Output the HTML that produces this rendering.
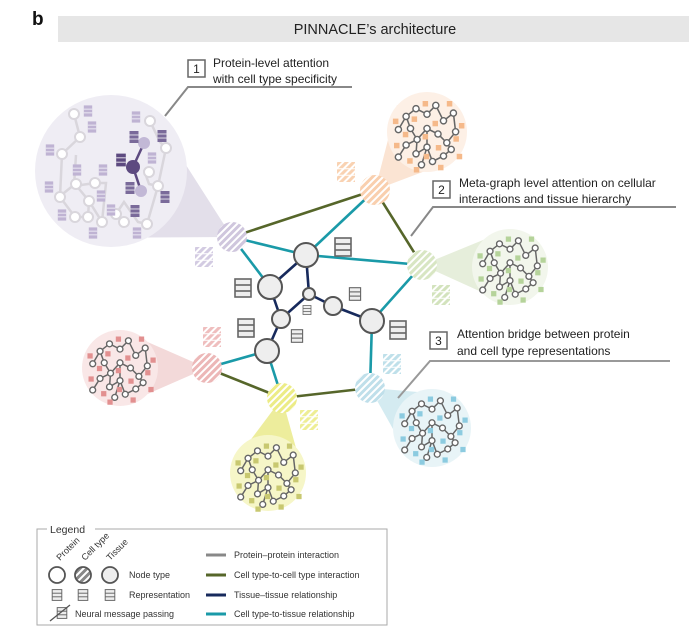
<!DOCTYPE html>
<html><head><meta charset="utf-8"><style>
html,body{margin:0;padding:0;background:#fff}
svg{display:block;font-family:"Liberation Sans",sans-serif}
</style></head><body>
<svg width="689" height="637" viewBox="0 0 689 637" xmlns="http://www.w3.org/2000/svg">
<defs>
<pattern id="h" width="5" height="5" patternUnits="userSpaceOnUse" patternTransform="rotate(45)">
<rect width="2" height="5" fill="#fff"/>
</pattern>
<g id="rep"><rect x="-6" y="-8" width="12" height="16"/><line x1="-6" y1="-2.7" x2="6" y2="-2.7" stroke="#fff" stroke-width="1"/><line x1="-6" y1="2.7" x2="6" y2="2.7" stroke="#fff" stroke-width="1"/></g>
<g id="trep"><rect x="-8" y="-9" width="16" height="18" fill="#eee" stroke="#666" stroke-width="1.6"/><line x1="-8" y1="-3" x2="8" y2="-3" stroke="#666" stroke-width="1.6"/><line x1="-8" y1="3" x2="8" y2="3" stroke="#666" stroke-width="1.6"/></g>
<g id="crep"><rect x="-9" y="-10" width="18" height="20" stroke="none"/><rect x="-9" y="-10" width="18" height="20" fill="url(#h)"/><line x1="-9" y1="-3.3" x2="9" y2="-3.3" stroke="#fff"/><line x1="-9" y1="3.3" x2="9" y2="3.3" stroke="#fff"/></g>
<g id="gr">
<polyline fill="none" stroke="#666" stroke-width="1.4" points="-26,-4 -19,-16 -10,-23 0,-18 8,-26 15,-12 24,-19 26,-2 18,8 10,0 0,-5 -9,5 -19,10 -26,21"/>
<polyline fill="none" stroke="#666" stroke-width="1.4" points="-19,-16 -15,-5 -9,5 -10,18 0,12 5,25 15,20 22,14 18,8"/>
<polyline fill="none" stroke="#666" stroke-width="1.4" points="0,-5 0,12 -5,28"/>
<g fill="#fff" stroke="#666" stroke-width="1.3">
<circle cx="-26" cy="-4" r="2.8"/><circle cx="-19" cy="-16" r="2.8"/><circle cx="-10" cy="-23" r="2.8"/><circle cx="0" cy="-18" r="2.8"/><circle cx="8" cy="-26" r="2.8"/><circle cx="15" cy="-12" r="2.8"/><circle cx="24" cy="-19" r="2.8"/><circle cx="26" cy="-2" r="2.8"/><circle cx="18" cy="8" r="2.8"/><circle cx="10" cy="0" r="2.8"/><circle cx="0" cy="-5" r="2.8"/><circle cx="-9" cy="5" r="2.8"/><circle cx="-19" cy="10" r="2.8"/><circle cx="-26" cy="21" r="2.8"/><circle cx="-15" cy="-5" r="2.8"/><circle cx="-10" cy="18" r="2.8"/><circle cx="0" cy="12" r="2.8"/><circle cx="5" cy="25" r="2.8"/><circle cx="15" cy="20" r="2.8"/><circle cx="22" cy="14" r="2.8"/><circle cx="-5" cy="28" r="2.8"/>
</g>
<g stroke="none">
<rect x="-31" y="-14" width="5" height="5"/><rect x="-4" y="-30" width="5" height="5"/><rect x="18" y="-30" width="5" height="5"/><rect x="29" y="-10" width="5" height="5"/><rect x="5" y="-12" width="5" height="5"/><rect x="-22" y="-2" width="5" height="5"/><rect x="-30" y="8" width="5" height="5"/><rect x="24" y="2" width="5" height="5"/><rect x="-4" y="0" width="5" height="5"/><rect x="8" y="10" width="5" height="5"/><rect x="-18" y="22" width="5" height="5"/><rect x="10" y="28" width="5" height="5"/><rect x="27" y="18" width="5" height="5"/><rect x="-14" y="-16" width="5" height="5"/><rect x="-3" y="18" width="5" height="5"/><rect x="-12" y="30" width="5" height="5"/>
</g>
</g>
</defs>

<text x="32" y="25" font-size="19" font-weight="bold" fill="#111">b</text>
<rect x="58" y="16" width="631" height="26" fill="#e6e6e6"/>
<text x="375" y="34" font-size="14.5" text-anchor="middle" fill="#222">PINNACLE’s architecture</text>

<!-- cones -->
<polygon points="75,238 147,104 232,237" fill="#e3dfea"/>
<polygon points="457,159 397,105 375,190" fill="#fbe4d3"/>
<polygon points="510,305 510,229 422,265" fill="#e6eedb"/>
<polygon points="120,330 120,406 207,368" fill="#f3d9d9"/>
<polygon points="305,480 231,466 282,398" fill="#eded9c"/>
<polygon points="453,395 411,461 370,388" fill="#d4ebf1"/>

<!-- bubbles -->
<circle cx="111" cy="171" r="76" fill="#efedf4"/>
<circle cx="427" cy="132" r="40" fill="#fdf0e6"/>
<circle cx="510" cy="267" r="38" fill="#f2f6ec"/>
<circle cx="120" cy="368" r="38" fill="#f9e7e7"/>
<circle cx="268" cy="473" r="38" fill="#f6f6c8"/>
<circle cx="432" cy="428" r="39" fill="#e8f4f7"/>

<use href="#gr" transform="translate(427,134) scale(1.1)" fill="#f5b98a"/>
<use href="#gr" transform="translate(510,268) scale(1.05)" fill="#b5d39a"/>
<use href="#gr" transform="translate(120,368) scale(1.05)" fill="#e29090"/>
<use href="#gr" transform="translate(268,475) scale(1.05)" fill="#c8c870"/>
<use href="#gr" transform="translate(432,428) scale(1.05)" fill="#8ccbe0"/>

<!-- purple big bubble content -->
<g fill="none" stroke="#d9d6dc" stroke-width="2.5">
<polyline points="74,114 80,137 62,154 60,197 75,217 88,217 89,201 102,222 106,183 95,183 74,186 76,155"/>
<polyline points="89,201 75,184 59,197"/>
<polyline points="116,214 124,202 138,222 147,224 158,186 166,148 160,142 150,121"/>
<polyline points="144,170 149,184 158,186"/>
</g>
<g fill="#fff" stroke="#d9d6dc" stroke-width="2">
<circle cx="74" cy="114" r="5"/><circle cx="80" cy="137" r="5"/><circle cx="62" cy="154" r="5"/><circle cx="60" cy="197" r="5"/><circle cx="75" cy="217" r="5"/><circle cx="88" cy="217" r="5"/><circle cx="89" cy="201" r="5"/><circle cx="102" cy="222" r="5"/><circle cx="95" cy="183" r="5"/><circle cx="76" cy="184" r="5"/><circle cx="116" cy="214" r="5"/><circle cx="124" cy="222" r="5"/><circle cx="147" cy="224" r="5"/><circle cx="158" cy="186" r="5"/><circle cx="166" cy="148" r="5"/><circle cx="150" cy="121" r="5"/><circle cx="149" cy="172" r="5"/>
</g>
<g stroke="#5d4a80" stroke-width="2.5"><line x1="133" y1="167" x2="144" y2="143"/><line x1="133" y1="167" x2="141" y2="191"/></g>
<circle cx="144" cy="143" r="6" fill="#c2b8d6"/><circle cx="141" cy="191" r="6" fill="#c2b8d6"/>
<circle cx="133" cy="167" r="7" fill="#5d4a80"/>
<use href="#rep" transform="translate(121,160) scale(0.8)" fill="#5d4a80"/>
<use href="#rep" transform="translate(134,137) scale(0.75)" fill="#7a6a9a"/>
<use href="#rep" transform="translate(162,136) scale(0.75)" fill="#7a6a9a"/>
<use href="#rep" transform="translate(130,188) scale(0.75)" fill="#7a6a9a"/>
<use href="#rep" transform="translate(165,197) scale(0.75)" fill="#7a6a9a"/>
<use href="#rep" transform="translate(135,211) scale(0.75)" fill="#7a6a9a"/>
<g fill="#bfb3d3">
<use href="#rep" transform="translate(88,111) scale(0.7)"/><use href="#rep" transform="translate(92,127) scale(0.7)"/><use href="#rep" transform="translate(50,150) scale(0.7)"/><use href="#rep" transform="translate(77,170) scale(0.7)"/><use href="#rep" transform="translate(103,170) scale(0.7)"/><use href="#rep" transform="translate(49,187) scale(0.7)"/><use href="#rep" transform="translate(101,196) scale(0.7)"/><use href="#rep" transform="translate(62,215) scale(0.7)"/><use href="#rep" transform="translate(93,233) scale(0.7)"/><use href="#rep" transform="translate(137,233) scale(0.7)"/><use href="#rep" transform="translate(136,117) scale(0.7)"/><use href="#rep" transform="translate(152,158) scale(0.7)"/><use href="#rep" transform="translate(111,210) scale(0.7)"/>
</g>

<!-- callout lines -->
<polyline points="165,116 188,87 352,87" fill="none" stroke="#888" stroke-width="2"/>
<polyline points="411,236 433,207 676,207" fill="none" stroke="#888" stroke-width="2"/>
<polyline points="398,398 430,361 670,361" fill="none" stroke="#999" stroke-width="2"/>

<!-- edges -->
<g stroke-width="2.6" fill="none">
<g stroke="#56662a">
<line x1="232" y1="237" x2="375" y2="190"/><line x1="375" y1="190" x2="422" y2="265"/>
<line x1="207" y1="368" x2="282" y2="398"/><line x1="282" y1="398" x2="370" y2="388"/>
</g>
<g stroke="#1a9aa8">
<line x1="232" y1="237" x2="306" y2="255"/><line x1="232" y1="237" x2="270" y2="287"/>
<line x1="375" y1="190" x2="306" y2="255"/><line x1="306" y1="255" x2="422" y2="265"/>
<line x1="422" y1="265" x2="372" y2="321"/><line x1="372" y1="321" x2="370" y2="388"/>
<line x1="267" y1="351" x2="207" y2="368"/><line x1="267" y1="351" x2="282" y2="398"/>
</g>
<g stroke="#172a5c">
<line x1="306" y1="255" x2="270" y2="287"/><line x1="306" y1="255" x2="309" y2="294"/>
<line x1="270" y1="287" x2="281" y2="319"/><line x1="309" y1="294" x2="281" y2="319"/>
<line x1="281" y1="319" x2="267" y2="351"/><line x1="309" y1="294" x2="333" y2="306"/>
<line x1="333" y1="306" x2="372" y2="321"/>
</g>
</g>

<!-- tissue nodes -->
<g fill="#eee" stroke="#555" stroke-width="2">
<circle cx="306" cy="255" r="12"/><circle cx="270" cy="287" r="12"/><circle cx="309" cy="294" r="6"/><circle cx="333" cy="306" r="9"/><circle cx="372" cy="321" r="12"/><circle cx="281" cy="319" r="9"/><circle cx="267" cy="351" r="12"/>
</g>
<use href="#trep" transform="translate(343,247)"/>
<use href="#trep" transform="translate(243,288)"/>
<use href="#trep" transform="translate(246,328)"/>
<use href="#trep" transform="translate(398,330)"/>
<use href="#trep" transform="translate(355,294) scale(0.7)"/>
<use href="#trep" transform="translate(307,310) scale(0.5)"/>
<use href="#trep" transform="translate(297,336) scale(0.7)"/>

<!-- cell nodes -->
<g>
<circle cx="232" cy="237" r="15" fill="#cfc6dd"/><circle cx="232" cy="237" r="15" fill="url(#h)"/>
<circle cx="375" cy="190" r="15" fill="#f9cfae"/><circle cx="375" cy="190" r="15" fill="url(#h)"/>
<circle cx="422" cy="265" r="15" fill="#d8e6c3"/><circle cx="422" cy="265" r="15" fill="url(#h)"/>
<circle cx="207" cy="368" r="15" fill="#ecb7b7"/><circle cx="207" cy="368" r="15" fill="url(#h)"/>
<circle cx="282" cy="398" r="15" fill="#ecec86"/><circle cx="282" cy="398" r="15" fill="url(#h)"/>
<circle cx="370" cy="388" r="15" fill="#bfdfea"/><circle cx="370" cy="388" r="15" fill="url(#h)"/>
</g>
<use href="#crep" transform="translate(204,257)" fill="#d3cbe2"/>
<use href="#crep" transform="translate(346,172)" fill="#f9d2b2"/>
<use href="#crep" transform="translate(441,295)" fill="#d3e3bd"/>
<use href="#crep" transform="translate(212,337)" fill="#efbebe"/>
<use href="#crep" transform="translate(392,364)" fill="#bfe0ea"/>
<use href="#crep" transform="translate(309,420)" fill="#eeee95"/>

<!-- callout boxes -->
<g fill="#fff" stroke="#666" stroke-width="1.5">
<rect x="188" y="60" width="17" height="17"/><rect x="433" y="181" width="17" height="17"/><rect x="430" y="332" width="17" height="17"/>
</g>
<g font-size="12" fill="#222">
<text x="196.5" y="73" text-anchor="middle">1</text><text x="441.5" y="194" text-anchor="middle">2</text><text x="438.5" y="345" text-anchor="middle">3</text>
<text x="213" y="67">Protein-level attention</text><text x="213" y="83">with cell type specificity</text>
<text x="459" y="187">Meta-graph level attention on cellular</text><text x="459" y="203">interactions and tissue hierarchy</text>
<text x="457" y="338">Attention bridge between protein</text><text x="457" y="355">and cell type representations</text>
</g>

<!-- legend -->
<polyline points="47,529 37,529 37,625 387,625 387,529 95,529" fill="none" stroke="#aaa" stroke-width="1"/>
<text x="50" y="533" font-size="10.5" fill="#333">Legend</text>
<g font-size="9" fill="#333">
<text transform="translate(60,561) rotate(-45)">Protein</text>
<text transform="translate(85,561) rotate(-45)">Cell type</text>
<text transform="translate(110,561) rotate(-45)">Tissue</text>
<text x="129" y="578">Node type</text><text x="129" y="598">Representation</text><text x="75" y="617">Neural message passing</text>
<text x="234" y="558">Protein–protein interaction</text><text x="234" y="578">Cell type-to-cell type interaction</text><text x="234" y="598">Tissue–tissue relationship</text><text x="234" y="617">Cell type-to-tissue relationship</text>
</g>
<circle cx="57" cy="575" r="8" fill="#fff" stroke="#555" stroke-width="1.8"/>
<circle cx="83" cy="575" r="8" fill="#888"/><circle cx="83" cy="575" r="8" fill="url(#h)" stroke="#555" stroke-width="1.8"/>
<circle cx="110" cy="575" r="8" fill="#eee" stroke="#555" stroke-width="1.8"/>
<use href="#trep" transform="translate(57,595) scale(0.6)"/>
<use href="#trep" transform="translate(83,595) scale(0.6)"/>
<use href="#trep" transform="translate(110,595) scale(0.6)"/>
<use href="#trep" transform="translate(62,613) scale(0.6)"/>
<line x1="50" y1="621" x2="70" y2="605" stroke="#555" stroke-width="1.3"/>
<g stroke-width="3"><line x1="206" y1="555" x2="226" y2="555" stroke="#888"/><line x1="206" y1="575" x2="226" y2="575" stroke="#56662a"/><line x1="206" y1="595" x2="226" y2="595" stroke="#172a5c"/><line x1="206" y1="614" x2="226" y2="614" stroke="#1a9aa8"/></g>
</svg>
</body></html>
